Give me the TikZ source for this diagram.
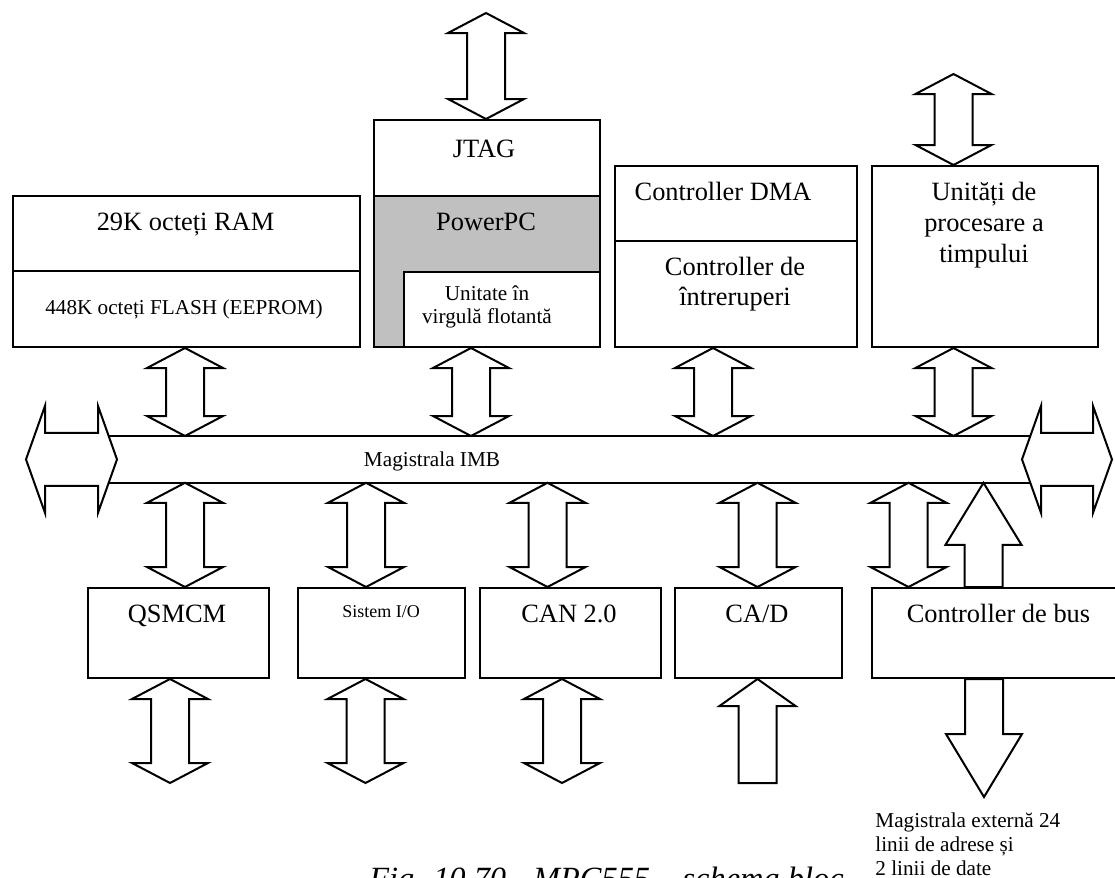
\documentclass[tikz,border=0pt]{standalone}
\usepackage{fontspec}
\setmainfont{Liberation Serif}
\usetikzlibrary{calc, positioning}

\definecolor{cpugray}{RGB}{192,192,192}

% vertical double block arrow: #1 x, #2 upper end, #3 lower end
\newcommand{\vdbl}[3]{%
  \draw[blockarrow] let \p3=(#1,0), \p1=(#2), \p2=(#3) in
    (\x3,\y1) -- ({\x3+19pt},{\y1-10pt}) -- ({\x3+9.5pt},{\y1-10pt})
    -- ({\x3+9.5pt},{\y2+10pt}) -- ({\x3+19pt},{\y2+10pt}) -- (\x3,\y2)
    -- ({\x3-19pt},{\y2+10pt}) -- ({\x3-9.5pt},{\y2+10pt})
    -- ({\x3-9.5pt},{\y1-10pt}) -- ({\x3-19pt},{\y1-10pt}) -- cycle;}

% single block arrow: #1 x, #2 tip, #3 tail, #4 head length
\newcommand{\sglarrow}[4]{%
  \draw[blockarrow] let \p3=(#1,0), \p1=(#2), \p2=(#3), \n1={sign(\y2-\y1)} in
    (\x3,\y1) -- ({\x3+19pt},{\y1+\n1*#4}) -- ({\x3+9.5pt},{\y1+\n1*#4})
    -- ({\x3+9.5pt},\y2) -- ({\x3-9.5pt},\y2)
    -- ({\x3-9.5pt},{\y1+\n1*#4}) -- ({\x3-19pt},{\y1+\n1*#4}) -- cycle;}

% horizontal double block arrow at the ends of the bus: #1 left x, #2 right x, #3 bus node
\newcommand{\hdbl}[3]{%
  \draw[blockarrow] let \p1=(#1,0), \p2=(#2,0), \p3=(#3) in
    (\x1,\y3) -- ({\x1+9.5pt},{\y3+26.75pt}) -- ({\x1+9.5pt},{\y3+13.25pt})
    -- ({\x2-9.5pt},{\y3+13.25pt}) -- ({\x2-9.5pt},{\y3+26.75pt}) -- (\x2,\y3)
    -- ({\x2-9.5pt},{\y3-26.75pt}) -- ({\x2-9.5pt},{\y3-13.25pt})
    -- ({\x1+9.5pt},{\y3-13.25pt}) -- ({\x1+9.5pt},{\y3-26.75pt}) -- cycle;}

\begin{document}
\begin{tikzpicture}[x=0.5pt, y=-0.5pt,
    block/.style={rectangle, draw, line width=1pt, fill=white, inner sep=0pt, anchor=north west},
    blockarrow/.style={draw, line width=1pt, fill=white, line join=miter},
    big/.style={font=\fontsize{13.2}{15.5}\selectfont, inner sep=0pt, anchor=base, align=center},
    small/.style={font=\fontsize{10.6}{12}\selectfont, inner sep=0pt, anchor=base, align=center}
]
\useasboundingbox (0,0) rectangle (1115,878);

% Upper blocks
\node[block, minimum width=173.5pt, minimum height=37.5pt] (ram) at (12,195) {};
\node[block, minimum width=173.5pt, minimum height=38pt] (flash) at (12,270) {};
\node[block, minimum width=113pt, minimum height=38pt] (jtag) at (373,119) {};
\node[block, minimum width=113pt, minimum height=75.5pt, fill=cpugray] (ppc) at (373,195) {};
\node[block, minimum width=98pt, minimum height=37.5pt] (fpu) at (403,271) {};
\node[block, minimum width=121pt, minimum height=37.5pt] (dma) at (614,165) {};
\node[block, minimum width=121pt, minimum height=53pt] (intc) at (614,240) {};
\node[block, minimum width=113pt, minimum height=90.5pt] (tpu) at (871,165) {};

% (multi-line texts sit on the baseline of their last line)
\node[big] (ramtxt) at (185.5,230) {29K octeți RAM};
\node[small] (flashtxt) at (184,314) {448K octeți FLASH (EEPROM)};
\node[big] (jtagtxt) at (484,157) {JTAG};
\node[big] (ppctxt) at (486,230) {PowerPC};
\node[small, font=\fontsize{10.6}{11.5}\selectfont] (fputxt) at (487,323) {Unitate în\\virgulă flotantă};
\node[big] (dmatxt) at (723,200) {Controller DMA};
\node[big, font=\fontsize{13.2}{15}\selectfont] (intctxt) at (735,305) {Controller de\\întreruperi};
\node[big] (tputxt) at (984,262) {Unități de\\procesare a\\timpului};

% IMB bus
\node[minimum width=452.5pt, minimum height=23pt, inner sep=0pt, anchor=north west] (bus) at (117,436) {};
\draw[line width=1pt] ([xshift=-30pt]bus.north west) -- ([xshift=30pt]bus.north east);
\draw[line width=1pt] ([xshift=-30pt]bus.south west) -- ([xshift=30pt]bus.south east);
\node[small] (bustxt) at (432,466) {Magistrala IMB};
\hdbl{26}{117}{bus}
\hdbl{1022}{1112}{bus}

% Lower blocks
\node[block, minimum width=90.5pt, minimum height=45pt] (qsmcm) at (87,587) {};
\node[block, minimum width=83.5pt, minimum height=45pt] (sio) at (297,587) {};
\node[block, minimum width=90.5pt, minimum height=45pt] (can) at (479,587) {};
\node[block, minimum width=83.5pt, minimum height=45pt] (cad) at (674,587) {};
\node[block, minimum width=127.5pt, minimum height=45pt] (ebi) at (871,587) {};

\node[big] (qsmcmtxt) at (177,622) {QSMCM};
\node[small, font=\fontsize{9}{11}\selectfont] (siotxt) at (381,617) {Sistem I/O};
\node[big] (cantxt) at (569,622) {CAN 2.0};
\node[big] (cadtxt) at (757,622) {CA/D};
\node[big] (ebitxt) at (998.5,622) {Controller de bus};

% free ends of the outer arrows
\coordinate (jtagport) at (486,13);
\coordinate (tpuport) at (953.5,74);
\coordinate (pins) at (0,783);
\coordinate (extbus) at (0,797);

% Arrows
\vdbl{486}{jtagport}{jtag.north}
\vdbl{953.5}{tpuport}{tpu.north}

\vdbl{185}{flash.south}{bus.north}
\vdbl{471}{ppc.south}{bus.north}
\vdbl{713}{intc.south}{bus.north}
\vdbl{953.5}{tpu.south}{bus.north}

\vdbl{185}{bus.south}{qsmcm.north}
\vdbl{366}{bus.south}{sio.north}
\vdbl{547.5}{bus.south}{can.north}
\vdbl{757.5}{bus.south}{cad.north}
\vdbl{908.5}{bus.south}{ebi.north}
\sglarrow{983.5}{bus.south}{ebi.north}{31pt}

\vdbl{170}{qsmcm.south}{pins}
\vdbl{365.5}{sio.south}{pins}
\vdbl{562}{can.south}{pins}
\sglarrow{757.5}{cad.south}{pins}{13.5pt}
\sglarrow{984}{extbus}{ebi.south}{31.5pt}

\node[font=\fontsize{16.2}{19}\selectfont\itshape, inner sep=0pt, anchor=base west] (caption) at (369,889) {Fig. 10.70 - MPC555 – schema bloc};
\node[small, anchor=base west, align=left, fill=white] (extlbl) at (875,875) {Magistrala externă 24\\linii de adrese și\\2 linii de date};

\end{tikzpicture}
\end{document}
